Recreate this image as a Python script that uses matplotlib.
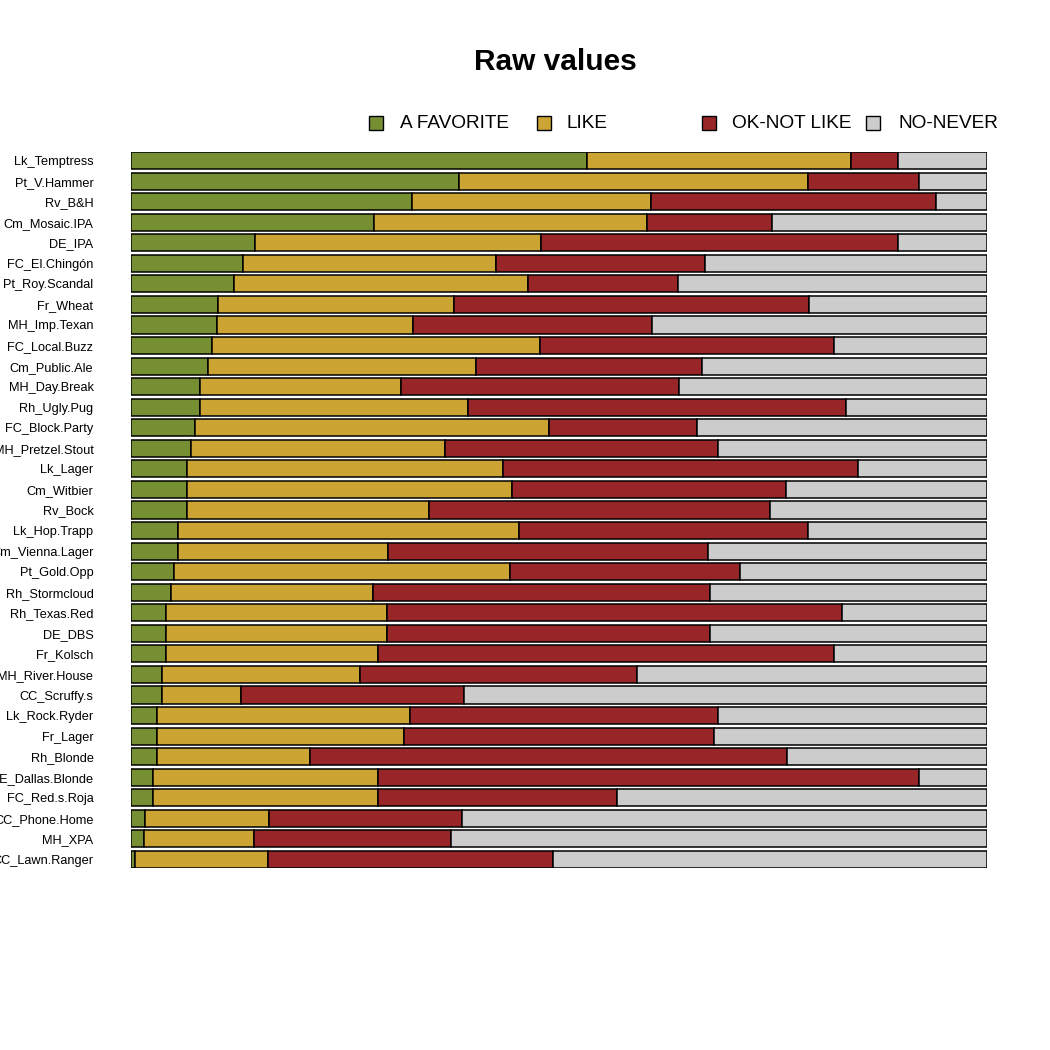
import matplotlib.pyplot as plt
from matplotlib.patches import Rectangle

beers = ['Lk_Temptress', 'Pt_V.Hammer', 'Rv_B&H', 'Cm_Mosaic.IPA', 'DE_IPA',
         'FC_El.Chingón', 'Pt_Roy.Scandal', 'Fr_Wheat', 'MH_Imp.Texan',
         'FC_Local.Buzz', 'Cm_Public.Ale', 'MH_Day.Break', 'Rh_Ugly.Pug',
         'FC_Block.Party', 'MH_Pretzel.Stout', 'Lk_Lager', 'Cm_Witbier',
         'Rv_Bock', 'Lk_Hop.Trapp', 'Cm_Vienna.Lager', 'Pt_Gold.Opp',
         'Rh_Stormcloud', 'Rh_Texas.Red', 'DE_DBS', 'Fr_Kolsch',
         'MH_River.House', 'CC_Scruffy.s', 'Lk_Rock.Ryder', 'Fr_Lager',
         'Rh_Blonde', 'DE_Dallas.Blonde', 'FC_Red.s.Roja', 'CC_Phone.Home',
         'MH_XPA', 'CC_Lawn.Ranger']

# percent of answers per beer
favorite = [53.3, 38.3, 32.8, 28.4, 14.5, 13.1, 12.0, 10.2, 10.0, 9.5, 9.0, 8.1,
            8.1, 7.5, 7.0, 6.5, 6.5, 6.5, 5.5, 5.5, 5.0, 4.7, 4.1, 4.1, 4.1,
            3.6, 3.6, 3.0, 3.0, 3.0, 2.6, 2.6, 1.6, 1.5, 0.5]
like = [30.8, 40.8, 27.9, 31.9, 33.4, 29.5, 34.4, 27.5, 22.9, 38.3, 31.3, 23.4,
        31.3, 41.3, 29.7, 37.0, 38.0, 28.3, 39.8, 24.5, 39.3, 23.6, 25.8, 25.8,
        24.8, 23.2, 9.3, 29.6, 28.9, 17.9, 26.3, 26.3, 14.5, 12.9, 15.5]
ok_not = [5.5, 13.0, 33.3, 14.6, 41.7, 24.5, 17.5, 41.5, 28.0, 34.3, 26.4, 32.5,
          44.1, 17.3, 31.9, 41.4, 32.0, 39.8, 33.8, 37.4, 26.8, 39.3, 53.2, 37.7,
          53.2, 32.3, 26.0, 36.0, 36.2, 55.7, 63.2, 27.9, 22.6, 23.0, 33.3]
never = [10.4, 7.9, 6.0, 25.1, 10.4, 32.9, 36.1, 20.8, 39.1, 17.9, 33.3, 36.0,
         16.5, 33.9, 31.4, 15.1, 23.5, 25.4, 20.9, 32.6, 28.9, 32.4, 16.9, 32.4,
         17.9, 40.9, 61.1, 31.4, 31.9, 23.4, 7.9, 43.2, 61.3, 62.6, 50.7]

cats = ['A FAVORITE', 'LIKE', 'OK-NOT LIKE', 'NO-NEVER']
cols = ['#778F33', '#CCA433', '#982629', '#CCCCCC']

plt.rcParams['font.family'] = ['Liberation Sans', 'DejaVu Sans']

fig = plt.figure(figsize=(10.5, 10.5), dpi=100)
ax = fig.add_axes([131/1050, 1 - 868/1050, 856/1050, 716/1050])

n = len(beers)
ypos = list(range(n))
h = 0.83
left = [0.0] * n
tot = [f + l + o + v for f, l, o, v in zip(favorite, like, ok_not, never)]
for vals, c in zip([favorite, like, ok_not, never], cols):
    w = [v / t * 100 for v, t in zip(vals, tot)]
    ax.barh(ypos, w, left=left, height=h, color=c, edgecolor='black', linewidth=1.1)
    left = [a + b for a, b in zip(left, w)]

ax.set_xlim(0, 100)
ax.set_ylim(n - 1 + h / 2, -h / 2)
ax.set_yticks(ypos)
ax.set_yticklabels(beers, fontsize=9.2)
ax.tick_params(axis='y', length=0, pad=27)
ax.set_xticks([])
for s in ax.spines.values():
    s.set_visible(False)

fig.text(555/1050, 1 - 62/1050, 'Raw values', ha='center', va='center',
         fontsize=21.5, fontweight='bold')

# legend, laid out in one row
box_x = [369, 537, 702, 866]
txt_x = [400, 566, 732, 898]
ly = 1 - 123/1050
bs = 14/1050
for bx, tx, lab, c in zip(box_x, txt_x, cats, cols):
    fig.patches.append(Rectangle((bx/1050, ly - bs/2), bs, bs, transform=fig.transFigure,
                                 facecolor=c, edgecolor='black', linewidth=1.0))
    fig.text(tx/1050, ly, lab, ha='left', va='center', fontsize=13.7)

fig.savefig('out.png', dpi=100)
